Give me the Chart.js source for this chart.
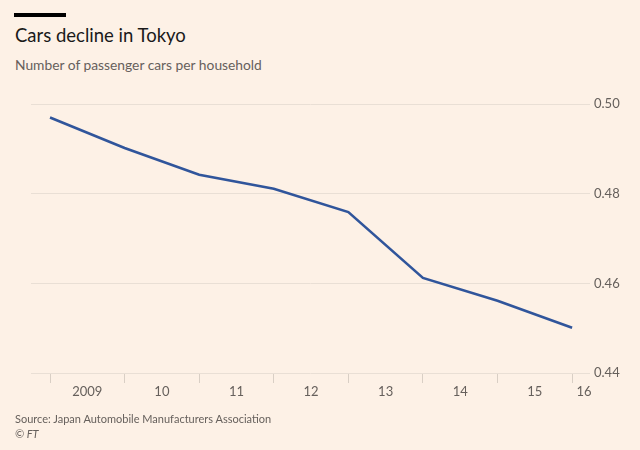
<!DOCTYPE html>
<html>
<head>
<meta charset="utf-8">
<script src="https://cdn.jsdelivr.net/npm/chart.js@4/dist/chart.umd.min.js"></script>
<style>
  html, body { margin: 0; padding: 0; background: #fdf1e6; }
  #wrap { position: relative; width: 640px; height: 450px; font-family: Lato, sans-serif; }
  #bar { position: absolute; left: 14px; top: 13px; width: 52px; height: 4px; background: #000; }
  #title { position: absolute; left: 15px; top: 24px; font-size: 18.5px; color: #1a1a1a; }
  #subtitle { position: absolute; left: 15px; top: 56px; font-size: 13.8px; color: #66605c; }
  #source { position: absolute; left: 15px; top: 412px; font-size: 11px; color: #66605c; }
  #copy { position: absolute; left: 15px; top: 427px; font-size: 11px; color: #66605c; font-style: italic; }
  canvas { position: absolute; left: 0; top: 0; }
</style>
</head>
<body>
<div id="wrap">
  <div id="bar"></div>
  <div id="title">Cars decline in Tokyo</div>
  <div id="subtitle">Number of passenger cars per household</div>
  <canvas id="chart" width="640" height="450"></canvas>
  <div id="source">Source: Japan Automobile Manufacturers Association</div>
  <div id="copy">© FT</div>
</div>
<script>
// Coches por hogar en Tokio (lectura aproximada del gráfico)
const years = [2009, 2010, 2011, 2012, 2013, 2014, 2015, 2016];
const carsPerHousehold = [0.497, 0.4902, 0.4842, 0.4811, 0.4759, 0.4612, 0.4561, 0.4501];
const yearLabels = ["2009", "10", "11", "12", "13", "14", "15", "16"];
const yTicks = [0.44, 0.46, 0.48, 0.50];

// etiquetas centradas en cada año; la última queda justo después de la marca
const labelPos = years.map((y, i) => (i < years.length - 1 ? y + 0.5 : y + 0.16));

const gridColor = "#e9dfd5";
const textColor = "#66605c";

new Chart(document.getElementById("chart").getContext("2d"), {
  type: "line",
  data: {
    datasets: [
      {
        data: years.map((y, i) => ({ x: y, y: carsPerHousehold[i] })),
        borderColor: "#30559b",
        borderWidth: 2.6,
        pointRadius: 0,
        tension: 0,
        fill: false,
      },
    ],
  },
  options: {
    responsive: false,
    animation: false,
    layout: { padding: { left: 31, top: 104, right: 0, bottom: 0 } },
    plugins: { legend: { display: false }, tooltip: { enabled: false } },
    scales: {
      x: {
        type: "linear",
        min: 2008.745,
        max: 2016.24,
        border: { display: false },
        grid: {
          drawOnChartArea: false,
          drawTicks: true,
          tickLength: 10,
          color: (ctx) => (ctx.tick && Number.isInteger(ctx.tick.value) ? "#d9cfc5" : "rgba(0,0,0,0)"),
        },
        afterBuildTicks: (scale) => {
          const t = [];
          years.forEach((y) => t.push({ value: y }));
          labelPos.forEach((p) => t.push({ value: p }));
          scale.ticks = t.sort((a, b) => a.value - b.value);
        },
        afterFit: (scale) => { scale.height = 77; },
        ticks: {
          autoSkip: false,
          maxRotation: 0,
          padding: 1,
          color: textColor,
          font: { family: "Lato", size: 13 },
          callback: (value) => {
            const i = labelPos.findIndex((p) => Math.abs(p - value) < 1e-6);
            return i >= 0 ? yearLabels[i] : "";
          },
        },
      },
      y: {
        position: "right",
        min: 0.44,
        max: 0.5,
        border: { display: false },
        grid: { color: gridColor, drawTicks: false, lineWidth: 1 },
        afterBuildTicks: (scale) => { scale.ticks = yTicks.map((v) => ({ value: v })); },
        afterFit: (scale) => { scale.width = 50; },
        ticks: {
          padding: 4,
          color: textColor,
          font: { family: "Lato", size: 13 },
          callback: (value) => Number(value).toFixed(2),
        },
      },
    },
  },
});
</script>
</body>
</html>
